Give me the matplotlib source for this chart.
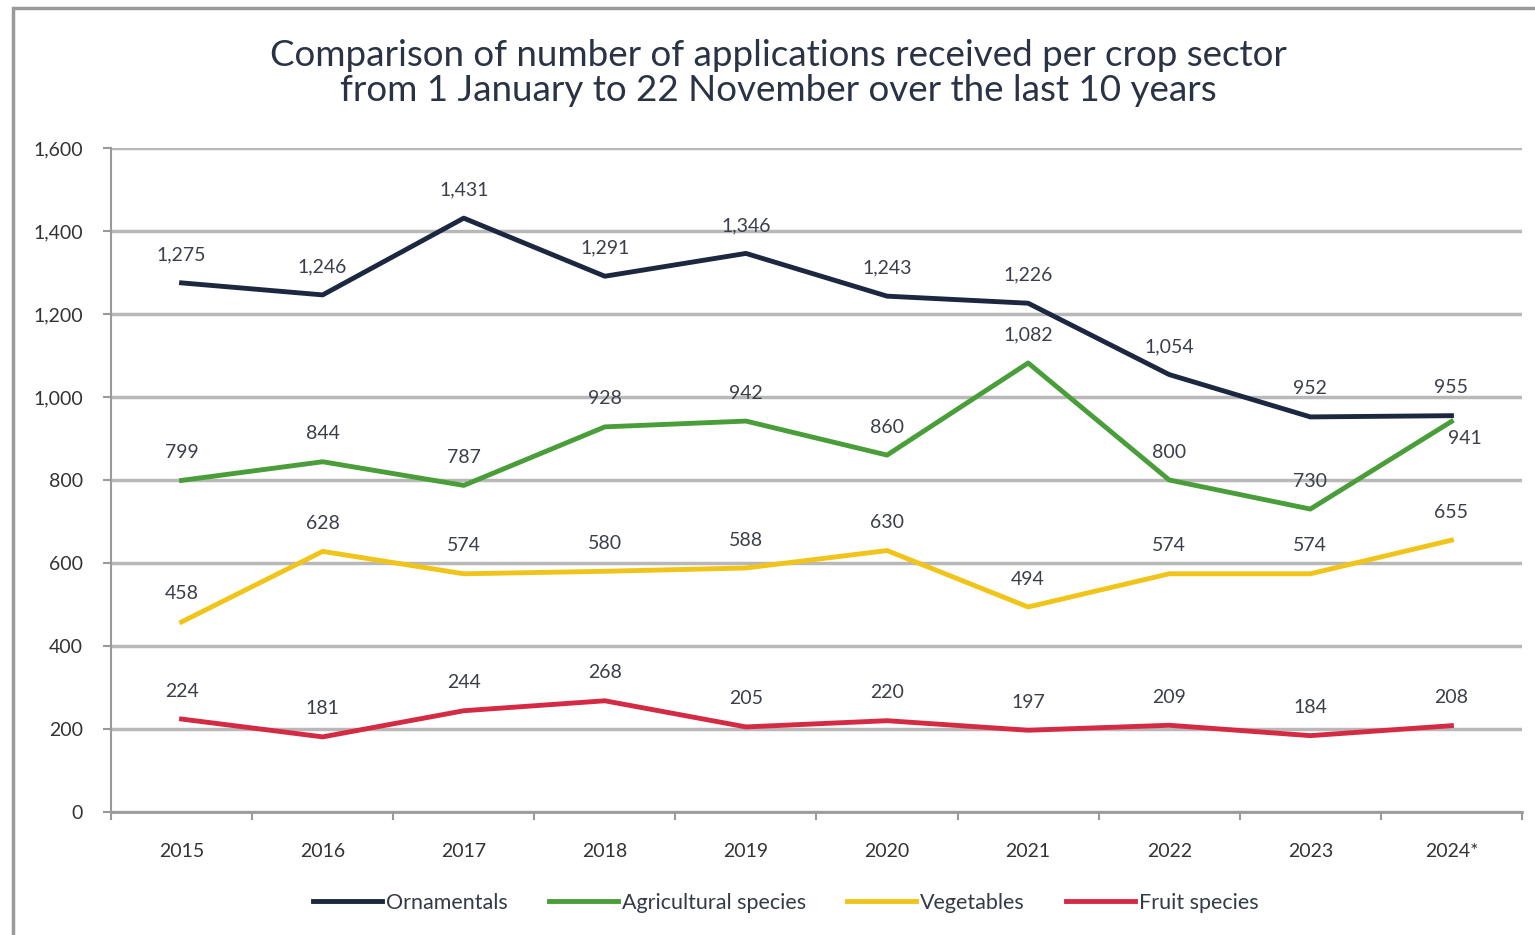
import matplotlib.pyplot as plt
from matplotlib.patches import Rectangle

years = ['2015', '2016', '2017', '2018', '2019', '2020', '2021', '2022', '2023', '2024*']
ornamentals = [1275, 1246, 1431, 1291, 1346, 1243, 1226, 1054, 952, 955]
agricultural = [799, 844, 787, 928, 942, 860, 1082, 800, 730, 941]
vegetables = [458, 628, 574, 580, 588, 630, 494, 574, 574, 655]
fruit = [224, 181, 244, 268, 205, 220, 197, 209, 184, 208]

series = [
    ('Ornamentals', ornamentals, '#1c2740'),
    ('Agricultural species', agricultural, '#4a9e3a'),
    ('Vegetables', vegetables, '#f0c419'),
    ('Fruit species', fruit, '#d42a44'),
]

plt.rcParams['font.family'] = ['Lato', 'DejaVu Sans']
label_color = '#3a3f4a'

fig = plt.figure(figsize=(15.35, 9.35), dpi=100)
fig.patches.append(Rectangle((13 / 1535, -0.01), 1.1, 1 - 8 / 935 + 0.01, transform=fig.transFigure,
                             fill=False, edgecolor='#9a9a9a', linewidth=2.5))

ax = fig.add_axes([111 / 1535, 1 - 812 / 935, (1522 - 111) / 1535, (812 - 148) / 935])

x = list(range(len(years)))
for name, vals, col in series:
    ax.plot(x, vals, color=col, linewidth=3.5, label=name, solid_joinstyle='round', zorder=3)
    for i, v in enumerate(vals):
        if name == 'Agricultural species' and i == 9:
            ax.annotate(f'{v:,}', (i, v), xytext=(10, -6), textcoords='offset points',
                        ha='center', va='top', fontsize=14, color=label_color)
            continue
        ax.annotate(f'{v:,}', (i, v), xytext=(0, 14), textcoords='offset points',
                    ha='center', va='bottom', fontsize=14, color=label_color)

ax.set_xlim(-0.5, 9.5)
ax.set_ylim(0, 1600)
ax.set_yticks(range(0, 1601, 200))
ax.set_yticklabels([f'{t:,}' for t in range(0, 1601, 200)])
ax.set_xticks(x)
ax.set_xticklabels(years)
ax.set_xticks([i - 0.5 for i in range(11)], minor=True)
ax.tick_params(axis='x', which='major', length=0, pad=22, labelsize=14, labelcolor='#333333')
ax.tick_params(axis='x', which='minor', length=6, width=1.5, color='#9a9a9a')
ax.tick_params(axis='y', length=6, width=1.5, color='#9a9a9a', labelsize=14, labelcolor='#333333', pad=14)

ax.grid(axis='y', color='#b8b8b8', linewidth=2.5, zorder=0)
ax.set_axisbelow(True)
for s in ['top', 'right']:
    ax.spines[s].set_visible(False)
ax.spines['left'].set_color('#9a9a9a')
ax.spines['left'].set_linewidth(1.5)
ax.spines['bottom'].set_color('#9a9a9a')
ax.spines['bottom'].set_linewidth(2)

fig.text(778 / 1535, 1 - 73 / 935,
         'Comparison of number of applications received per crop sector\nfrom 1 January to 22 November over the last 10 years',
         ha='center', va='center', fontsize=26.5, color='#2a3345', linespacing=1.05)

fig.legend(loc='center', bbox_to_anchor=(786 / 1535, 1 - 903 / 935), ncol=4, frameon=False,
           fontsize=15.5, handlelength=3.2, handletextpad=0.2, columnspacing=1.9,
           labelcolor='#333a48')

fig.savefig('out.png', dpi=100)
